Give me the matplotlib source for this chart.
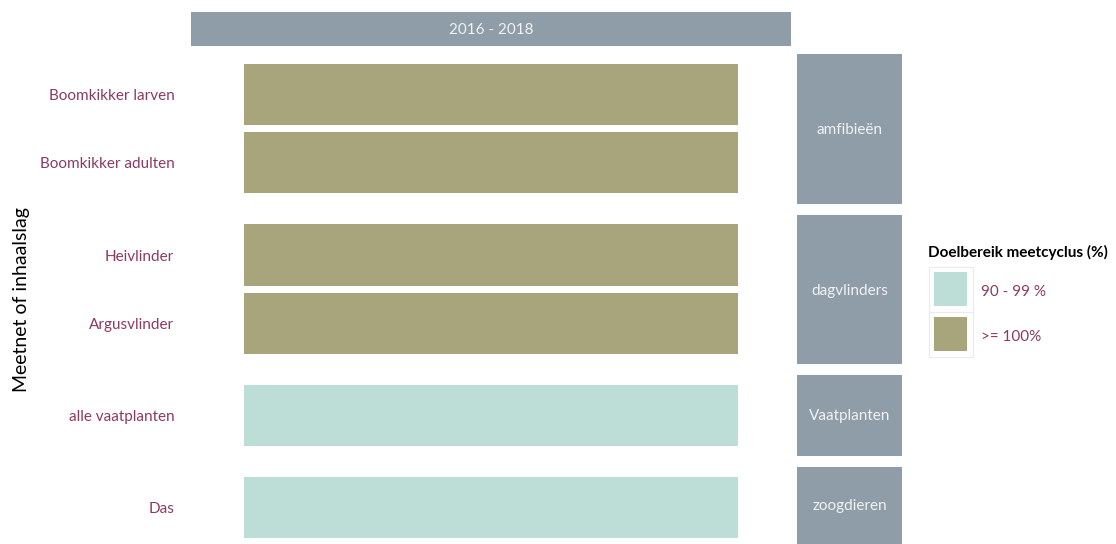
import matplotlib
matplotlib.use("Agg")
import matplotlib.pyplot as plt
import matplotlib.transforms as mtransforms
from matplotlib.patches import Patch, Rectangle
from matplotlib.legend_handler import HandlerBase

plt.rcParams['font.family'] = ['Lato', 'DejaVu Sans']

# data
periode = "2016 - 2018"
groepen = ["amfibieën", "dagvlinders", "Vaatplanten", "zoogdieren"]
meetnetten = [["Boomkikker larven", "Boomkikker adulten"],
              ["Heivlinder", "Argusvlinder"],
              ["alle vaatplanten"],
              ["Das"]]
klasse = [[">= 100%", ">= 100%"],
          [">= 100%", ">= 100%"],
          ["90 - 99 %"],
          ["90 - 99 %"]]
klassen = ["90 - 99 %", ">= 100%"]
kleuren = {"90 - 99 %": "#BCDED7", ">= 100%": "#A8A47B"}
legend_titel = "Doelbereik meetcyclus (%)"

strip_col = "#8F9DA8"
lab_col = "#8B3A63"

W, H = 1116, 544
fig = plt.figure(figsize=(W / 100, H / 100), dpi=100)

# panel extents (pixels, top/bottom)
panels = [(54, 204), (215, 364), (375, 456), (467, 544)]
px_x0, px_x1 = 191, 791
unit = 68.0  # px per category

def fx(p):
    return p / W

def fy(p):
    return 1 - p / H

def down(px):
    return mtransforms.ScaledTranslation(0, -px / 100, fig.dpi_scale_trans)

for g, (top, bot), cats, kl in zip(groepen, panels, meetnetten, klasse):
    ax = fig.add_axes([fx(px_x0), fy(bot), fx(px_x1 - px_x0), (bot - top) / H])
    pos = list(range(len(cats)))
    ax.barh(pos, [1] * len(cats), height=0.9, left=0,
            color=[kleuren[k] for k in kl])
    y_top = -0.45 - 9.5 / unit
    ax.set_ylim(y_top + (bot - top) / unit, y_top)
    m = 53 / 494
    ax.set_xlim(-m, 1 + m)
    ax.set_yticks(pos)
    ax.set_yticklabels(cats, color=lab_col, fontsize=11, va='center')
    ax.tick_params(axis='y', length=0, pad=12)
    for t in ax.get_yticklabels():
        t.set_transform(t.get_transform() + down(2))
    ax.set_xticks([])
    for s in ax.spines.values():
        s.set_visible(False)
    # right strip
    sax = fig.add_axes([fx(797), fy(bot), fx(902 - 797), (bot - top) / H])
    sax.set_facecolor(strip_col)
    sax.set_xticks([]); sax.set_yticks([])
    for s in sax.spines.values():
        s.set_visible(False)
    sax.text(0.5, 0.49, g, color="#F2F2F2", fontsize=11,
             ha='center', va='center', transform=sax.transAxes)

# top strip
tax = fig.add_axes([fx(191), fy(46), fx(791 - 191), (46 - 12) / H])
tax.set_facecolor(strip_col)
tax.set_xticks([]); tax.set_yticks([])
for s in tax.spines.values():
    s.set_visible(False)
tax.text(0.5, 0.47, periode, color="#F2F2F2", fontsize=11,
         ha='center', va='center', transform=tax.transAxes)

fig.text(fx(22), fy(300), "Meetnet of inhaalslag", rotation=90,
         ha='center', va='center', fontsize=14, color='black')


class KeyHandler(HandlerBase):
    # ggplot-like legend key: grey outline, white ring, filled square
    def create_artists(self, legend, orig, xd, yd, width, height, fontsize, trans):
        outer = Rectangle((-xd, -yd), width, height, facecolor='white',
                          edgecolor='#EBEBEB', linewidth=0.8, transform=trans)
        ins = 0.125 * width
        inner = Rectangle((-xd + ins, -yd + ins), width - 2 * ins, height - 2 * ins,
                          facecolor=orig.get_facecolor(), edgecolor='none',
                          transform=trans)
        return [outer, inner]


fig.text(fx(928), fy(252), legend_titel, fontsize=11, fontweight='bold',
         ha='left', va='center', color='black')

handles = [Patch(facecolor=kleuren[k]) for k in klassen]
leg = fig.legend(handles, klassen,
                 loc='upper left', bbox_to_anchor=(fx(915), fy(253)),
                 frameon=False, fontsize=11, handlelength=2.88,
                 handleheight=4.15, labelspacing=0.0, handletextpad=0.55,
                 handler_map={Patch: KeyHandler()})
for t in leg.get_texts():
    t.set_color(lab_col)
    t.set_transform(t.get_transform() + down(3))

fig.savefig("out.png", dpi=100)
